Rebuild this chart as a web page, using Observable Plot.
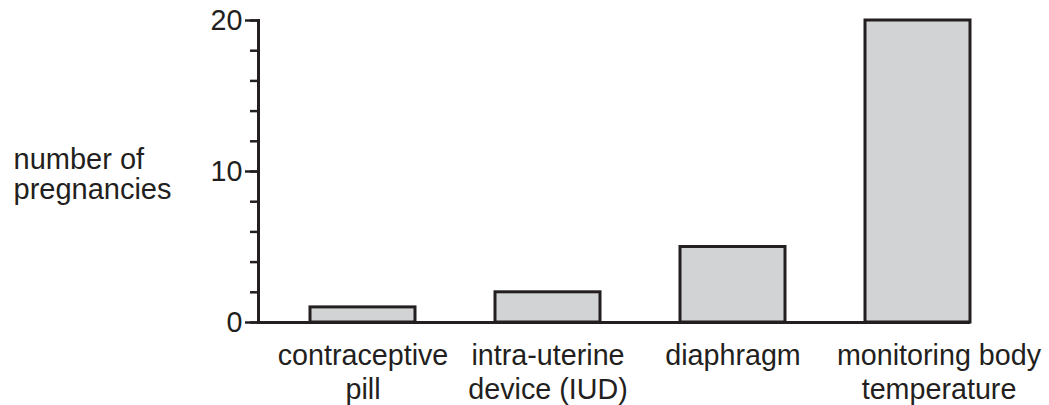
<!DOCTYPE html>
<html><head><meta charset="utf-8">
<script src="https://cdn.jsdelivr.net/npm/d3@7"></script>
<script src="https://cdn.jsdelivr.net/npm/@observablehq/plot@0.6"></script>
<style>body{margin:0;background:#fff}</style>
</head><body><div id="chart"></div>
<script>
const categories = ["contraceptive\npill", "intra-uterine\ndevice (IUD)", "diaphragm", "monitoring body\ntemperature"];
const pregnancies = [1, 2, 5, 20];
const yMajorTicks = [0, 10, 20];
const yMinorTicks = [0, 2, 4, 6, 8, 10, 12, 14, 16, 18, 20];
const yLabel = "number of\npregnancies";

const data = categories.map((c, i) => ({method: c, value: pregnancies[i]}));
const ink = "#231f20";

const chart = Plot.plot({
  width: 1049, height: 405,
  marginLeft: 258, marginRight: 79, marginTop: 20, marginBottom: 83,
  style: {fontFamily: "'Liberation Sans', Arial, sans-serif", fontSize: "28.7px", color: ink, background: "#fff"},
  x: {domain: categories, paddingInner: 0.435, paddingOuter: 0.135, align: 1, axis: null},
  y: {domain: [0, 20], axis: null},
  marks: [
    Plot.barY(data, {x: "method", y: "value", fill: "#d1d3d4", stroke: ink, strokeWidth: 3}),
    Plot.axisY({ticks: yMinorTicks, tickSize: 8, tickFormat: () => "", label: null, strokeWidth: 2.5}),
    Plot.axisY({ticks: yMajorTicks, tickSize: 13, tickPadding: 3, label: null, strokeWidth: 2.5, fontSize: 28.7}),
    Plot.frame({anchor: "left", stroke: ink, strokeWidth: 3}),
    Plot.ruleY([0], {stroke: ink, strokeWidth: 3}),
    Plot.axisX({ticks: categories.slice(0, 3), tickSize: 0, tickPadding: 18, lineHeight: 1.2, label: null, fontSize: 28.7}),
    Plot.axisX({ticks: categories.slice(3), tickSize: 0, tickPadding: 18, lineHeight: 1.2, label: null, fontSize: 28.7, dx: 21}),
    Plot.text([yLabel], {frameAnchor: "left", textAnchor: "start", dx: -245, dy: 3, lineHeight: 1.03, fontSize: 29, fill: ink})
  ]
});
document.getElementById("chart").append(chart);
</script>
</body></html>
